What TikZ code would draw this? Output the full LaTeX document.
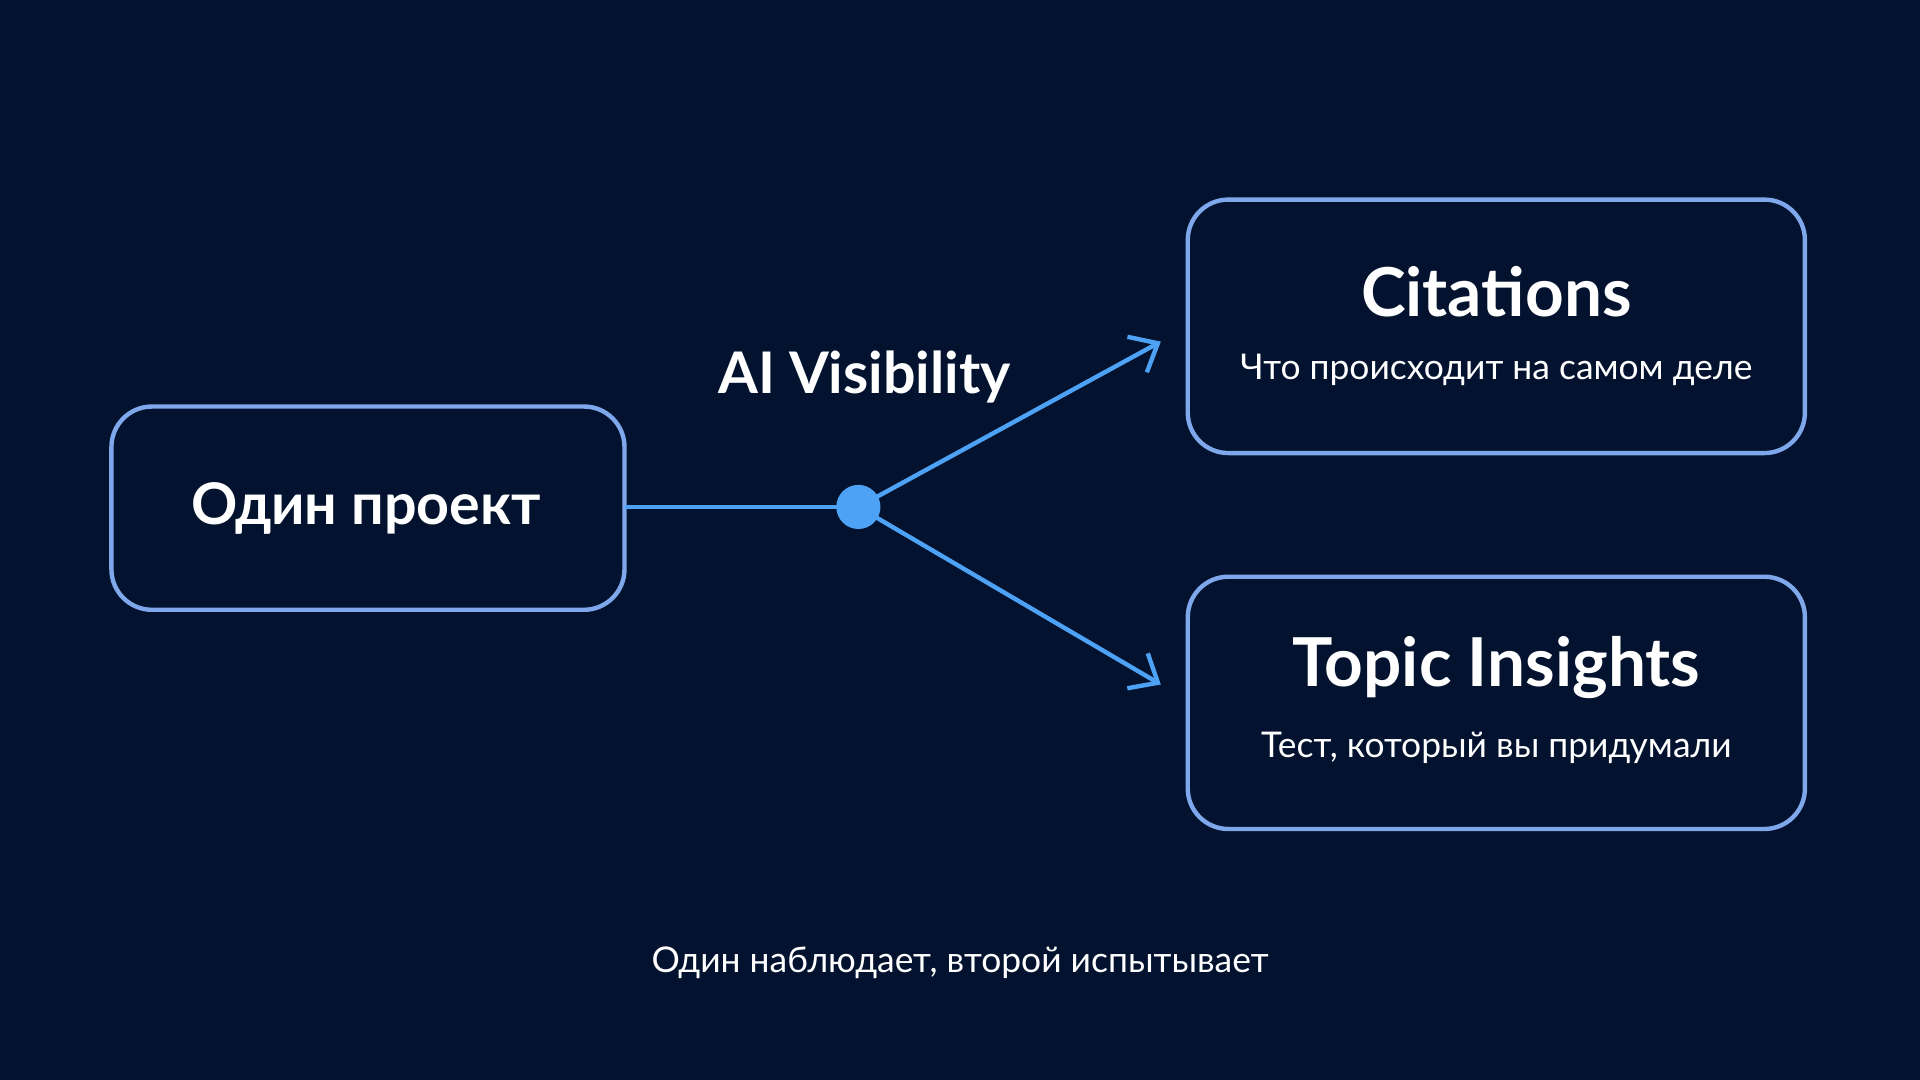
\documentclass[tikz,border=0pt]{standalone}
\usepackage{fontspec}
\setmainfont{Lato}
\usetikzlibrary{arrows.meta}
\definecolor{bg}{HTML}{03132F}
\definecolor{frame}{HTML}{7FA8EC}
\definecolor{link}{HTML}{4EA2F5}
\begin{document}
\begin{tikzpicture}[x=0.012755cm,y=-0.012755cm,
  box/.style={draw=frame,line width=1.3pt,rounded corners=12pt,fill=bg},
  conn/.style={draw=link,line width=1.3pt},
  hub/.style={circle,fill=link,minimum size=0.46cm,inner sep=0pt},
  title/.style={text=white,font=\fontsize{20}{24}\selectfont\bfseries},
  sub/.style={text=white,font=\fontsize{10.5}{12}\selectfont}]
\fill[bg] (0,0) rectangle (1568,882);
\useasboundingbox (0,0) rectangle (1568,882);
\draw[box] (91,332) rectangle (510,498);
\node[text=white,font=\fontsize{17}{20}\selectfont\bfseries] (one) at (299,415) {Один проект};
\coordinate (oneE) at (510,414);
\draw[box] (970,163) rectangle (1474,370);
\node[title] (cit) at (1222,238) {Citations};
\node[sub] (cits) at (1222,302) {Что происходит на самом деле};
\draw[box] (970,471) rectangle (1474,677);
\node[title] (top) at (1222,545) {Topic Insights};
\node[sub] (tops) at (1222,611) {Тест, который вы придумали};
\coordinate (a1) at (948,279);
\coordinate (a2) at (948,559);
\coordinate (c) at (701,414);
\draw[conn] (oneE) -- (c);
\draw[conn,-{Straight Barb[length=7pt,width=12pt]}] (c) -- (a1);
\draw[conn,-{Straight Barb[length=7pt,width=12pt]}] (c) -- (a2);
\node[hub] (dot) at (c) {};
\node[text=white,font=\fontsize{17}{20}\selectfont\bfseries] (ai) at (706,308) {AI Visibility};
\node[sub] (foot) at (784,786) {Один наблюдает, второй испытывает};
\end{tikzpicture}
\end{document}
